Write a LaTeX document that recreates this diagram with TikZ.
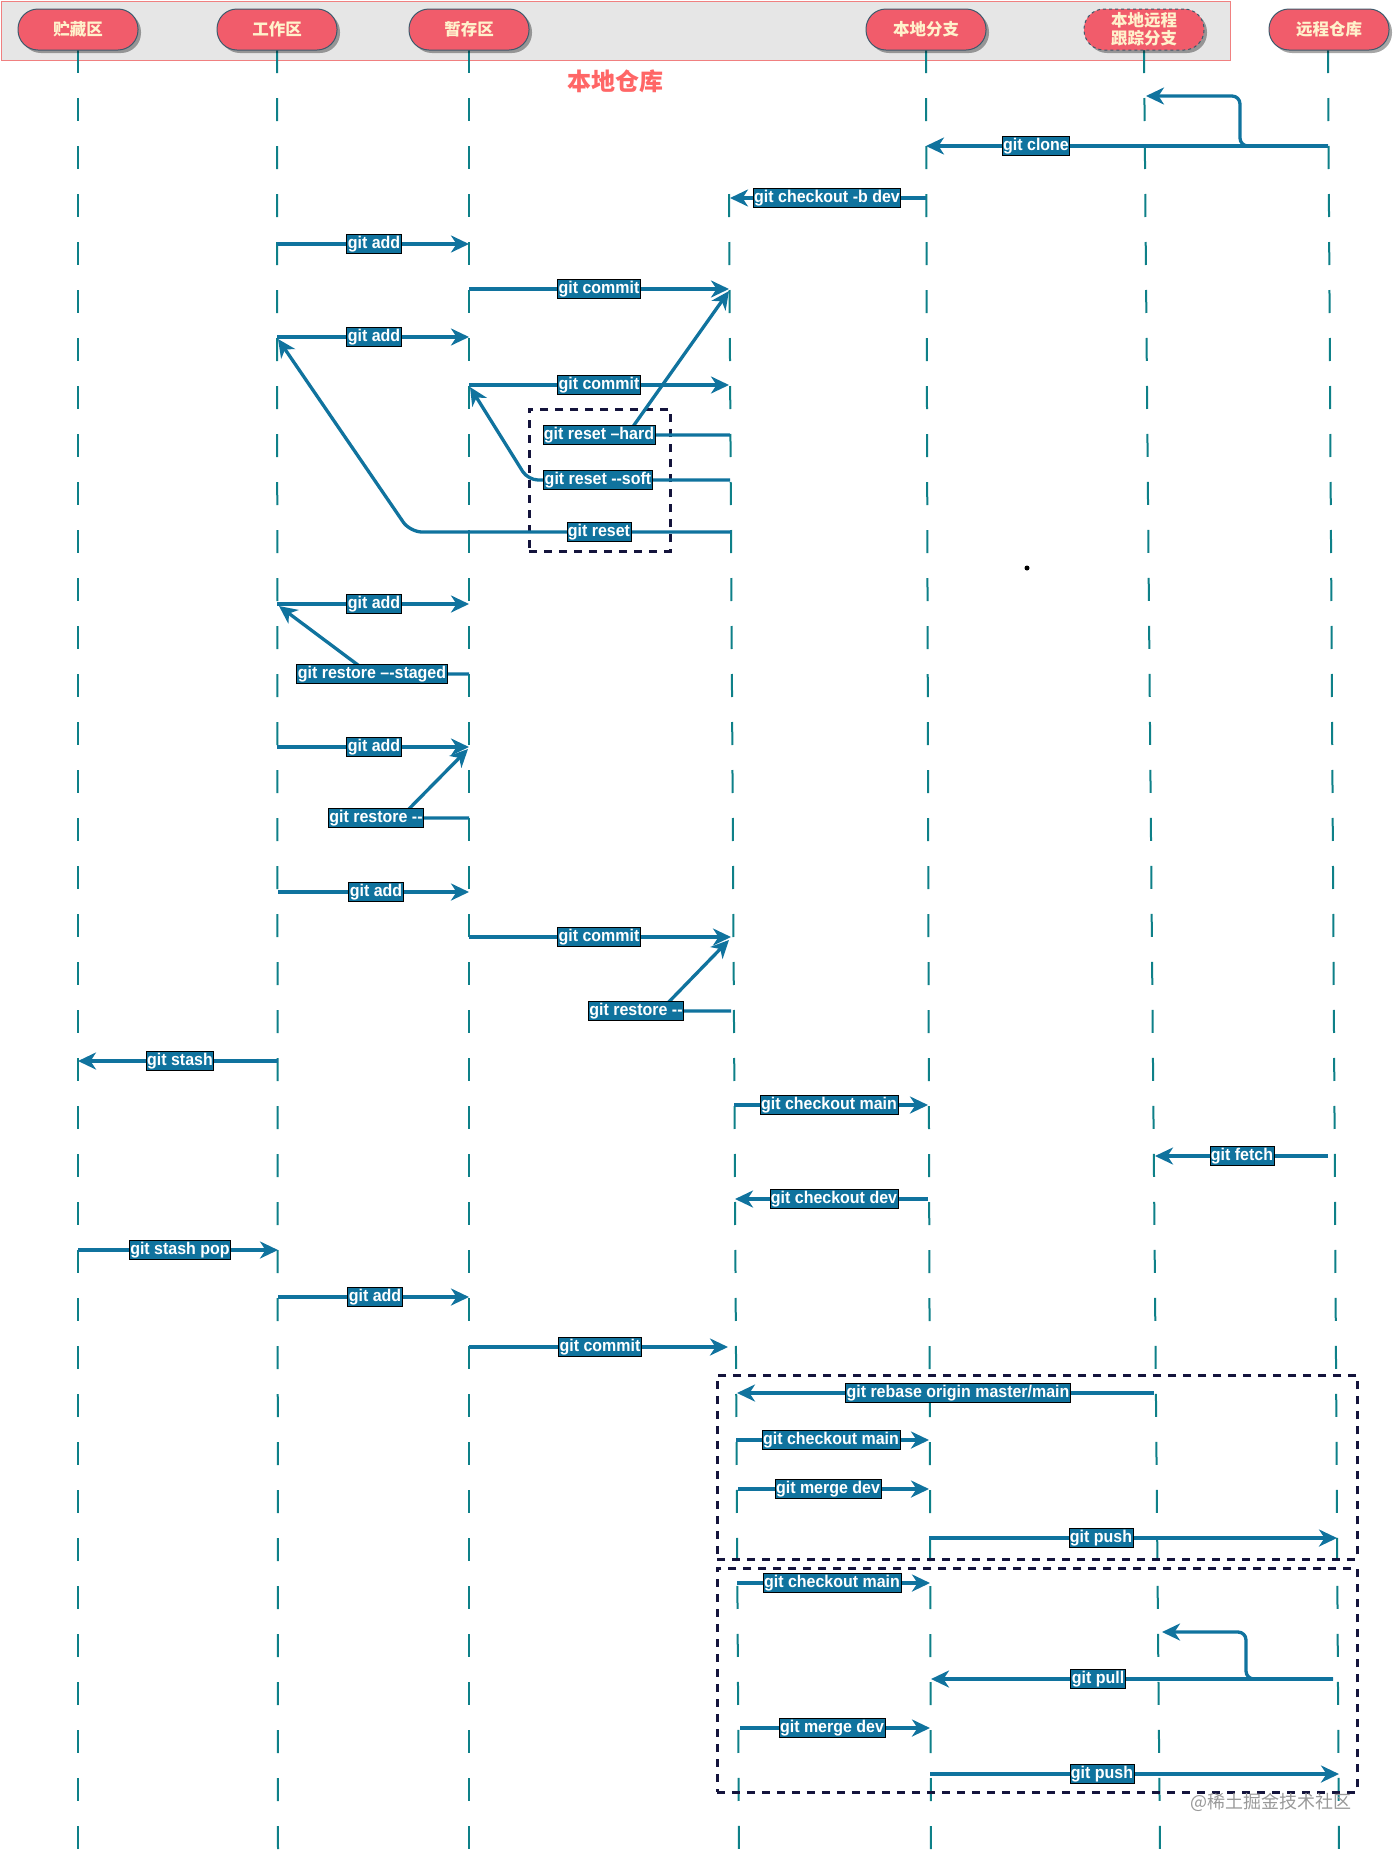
\documentclass[tikz,border=0pt]{standalone}
\usepackage{fontspec}
\setmainfont{Liberation Sans}
\newfontfamily\cjk{Noto Sans CJK SC}
\newfontfamily\lblfont{Liberation Sans}[FakeStretch=0.94]
\usetikzlibrary{arrows.meta,shadows,calc}
\definecolor{arrowc}{HTML}{10739E}
\definecolor{lifec}{HTML}{0E8088}
\definecolor{boxc}{HTML}{14143C}
\definecolor{headfill}{HTML}{F15C6B}
\definecolor{headtext}{HTML}{FFF2CC}
\definecolor{headline}{HTML}{3D5A6C}
\definecolor{bandfill}{HTML}{E6E6E6}
\definecolor{bandline}{HTML}{F08080}
\definecolor{repotext}{HTML}{FF6666}
\tikzset{
  msg/.style={draw=arrowc, line width=3.3pt, -{Stealth[length=18pt,width=17pt,inset=5.5pt]}},
  lbl/.style={fill=arrowc, draw=black, line width=0.8pt, text=white,
    font=\lblfont\fontsize{17}{17}\selectfont\bfseries, inner xsep=1pt, inner ysep=1.2pt,
    text height=12.3pt, text depth=3.8pt},
  life/.style={draw=lifec, line width=2pt, dash pattern=on 23pt off 25pt},
  grpbox/.style={draw=boxc, line width=2.5pt, dash pattern=on 8pt off 7pt},
  head/.style={fill=headfill, draw=headline, line width=1pt, rounded corners=20pt,
    minimum width=120pt, minimum height=41pt, inner sep=0pt, text=headtext, align=center,
    font=\cjk\fontsize{16.5}{18}\selectfont\bfseries,
    drop shadow={shadow xshift=3pt, shadow yshift=-3pt, opacity=0.35, fill=black}},
}
\newcommand\hmsg[6]{%
  \coordinate (#1s) at (#2,#4); \coordinate (#1t) at (#3,#4);
  \draw[msg] (#1s) -- (#1t);
  \node[lbl] (#1l) at (#5,#4) {#6};}
\begin{document}
\begin{tikzpicture}[x=1pt,y=-1pt]
\useasboundingbox (0,0) rectangle (1393,1853);
% header band
\node[draw=bandline, fill=bandfill, line width=1pt, minimum width=1229pt, minimum height=59pt, inner sep=0pt, anchor=north west] (band) at (0.5,0.5) {};
\node[text=repotext, font=\cjk\fontsize{24}{26}\selectfont\bfseries] (repo) at (615,81) {本地仓库};
% lifelines
\coordinate (L1a) at (78,50);   \coordinate (L1b) at (78,1853);
\coordinate (L2a) at (277,50);  \coordinate (L2b) at (278,1853);
\coordinate (L3a) at (469,50);  \coordinate (L3b) at (469,1853);
\coordinate (L4a) at (729,194); \coordinate (L4b) at (739,1853);
\coordinate (L5a) at (926,50);  \coordinate (L5b) at (931,1853);
\coordinate (L6a) at (1144,50); \coordinate (L6b) at (1160,1853);
\coordinate (L7a) at (1328,50); \coordinate (L7b) at (1339,1853);
\foreach \i in {1,...,7} {\draw[life] (L\i a) -- (L\i b);}
% header boxes
\node[head] (h1) at (78,29.5) {贮藏区};
\node[head] (h2) at (277,29.5) {工作区};
\node[head] (h3) at (469,29.5) {暂存区};
\node[head] (h5) at (926,29.5) {本地分支};
\node[head, dashed] (h6) at (1144,29.5) {本地远程\\跟踪分支};
\node[head] (h7) at (1329,29.5) {远程仓库};
% grouping boxes
\node[grpbox, minimum width=141pt, minimum height=142pt, inner sep=0pt, anchor=north west] (g0) at (528,408) {};
\node[grpbox, minimum width=640pt, minimum height=184pt, inner sep=0pt, anchor=north west] (g1) at (716,1374) {};
\node[grpbox, minimum width=640pt, minimum height=224pt, inner sep=0pt, anchor=north west] (g2) at (716,1567) {};
% dot
\node[circle, fill=black, inner sep=0pt, minimum size=5pt] (dot) at (1027,568) {};
% messages
\coordinate (cK) at (1240,96); \coordinate (cT) at (1146,96);
\draw[msg, rounded corners=8pt] (1328,146) -| (cK) -- (cT);
\hmsg{m1}{1328}{926}{146}{1036}{git clone}
\hmsg{m2}{926}{730}{198}{827}{git checkout -b dev}
\hmsg{m3}{277}{469}{244}{374}{git add}
\hmsg{m4}{469}{729}{289}{599}{git commit}
\hmsg{m5}{277}{469}{337}{374}{git add}
\hmsg{m6}{469}{729}{385}{599}{git commit}
% resets
\coordinate (m7s) at (730,435); \coordinate (m7k) at (627,435); \coordinate (m7t) at (729,291);
\draw[msg] (m7s) -- (m7k) -- (m7t);
\node[lbl] (m7l) at (599,435) {git reset –hard};
\coordinate (m8s) at (730,480); \coordinate (m8k) at (528,480); \coordinate (m8t) at (470,387);
\draw[msg, rounded corners=10pt] (m8s) -- (m8k) -- (m8t);
\node[lbl] (m8l) at (598,480) {git reset --soft};
\coordinate (m9s) at (731,532); \coordinate (m9k) at (410,532); \coordinate (m9t) at (278,339);
\draw[msg, rounded corners=12pt] (m9s) -- (m9k) -- (m9t);
\node[lbl] (m9l) at (599,532) {git reset};
\hmsg{m10}{277}{469}{604}{374}{git add}
\coordinate (m11s) at (469,674); \coordinate (m11k) at (370,674); \coordinate (m11t) at (279,606);
\draw[msg] (m11s) -- (m11k) -- (m11t);
\node[lbl] (m11l) at (372,674) {git restore –-staged};
\hmsg{m12}{277}{469}{747}{374}{git add}
\coordinate (m13s) at (469,818); \coordinate (m13k) at (400,818); \coordinate (m13t) at (468,749);
\draw[msg] (m13s) -- (m13k) -- (m13t);
\node[lbl] (m13l) at (376,818) {git restore --};
\hmsg{m14}{278}{469}{892}{376}{git add}
\hmsg{m15}{469}{731}{937}{599}{git commit}
\coordinate (m16s) at (731,1011); \coordinate (m16k) at (660,1011); \coordinate (m16t) at (729,940);
\draw[msg] (m16s) -- (m16k) -- (m16t);
\node[lbl] (m16l) at (636,1011) {git restore --};
\hmsg{m17}{278}{78}{1061}{180}{git stash}
\hmsg{m18}{734}{928}{1105}{829}{git checkout main}
\hmsg{m19}{1328}{1155}{1156}{1242}{git fetch}
\hmsg{m20}{928}{735}{1199}{834}{git checkout dev}
\hmsg{m21}{78}{278}{1250}{180}{git stash pop}
\hmsg{m22}{278}{469}{1297}{375}{git add}
\hmsg{m23}{469}{728}{1347}{600}{git commit}
\hmsg{m24}{1154}{737}{1393}{958}{git rebase origin master/main}
\hmsg{m25}{736}{929}{1440}{831}{git checkout main}
\hmsg{m26}{738}{929}{1489}{828}{git merge dev}
\hmsg{m27}{929}{1337}{1538}{1101}{git push}
\hmsg{m28}{737}{930}{1583}{832}{git checkout main}
\coordinate (pK) at (1246,1632); \coordinate (pT) at (1162,1632);
\draw[msg, rounded corners=8pt] (1333,1679) -| (pK) -- (pT);
\hmsg{m29}{1333}{931}{1679}{1098}{git pull}
\hmsg{m30}{740}{930}{1728}{832}{git merge dev}
\hmsg{m31}{930}{1339}{1774}{1102}{git push}
% watermark
\node[text=black!40, font=\cjk\fontsize{18}{20}\selectfont] (wm) at (1271,1802) {@稀土掘金技术社区};
\end{tikzpicture}
\end{document}
